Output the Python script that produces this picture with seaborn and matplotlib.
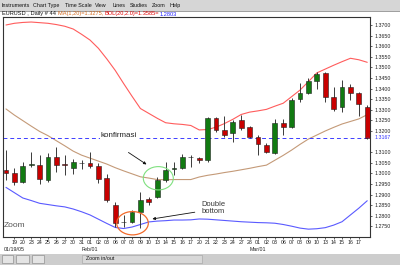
import matplotlib
matplotlib.use("Agg")
import matplotlib.pyplot as plt
import matplotlib.transforms as mtransforms
from matplotlib.patches import Ellipse, Rectangle
import seaborn as sns
import numpy as np
import pandas as pd

sns.set_style("white")
plt.rcParams['font.family'] = ['Liberation Sans', 'DejaVu Sans']

# ---------------- data ----------------
day_labels = ["19", "20", "23", "24", "25", "26", "27", "30", "31",
              "01", "02", "03", "06", "07", "08", "09", "10", "13", "14", "15", "16", "17",
              "20", "21", "22", "23", "24", "27", "28",
              "01", "02", "03", "06", "07", "08", "09", "10", "13", "14", "15", "16", "17"]
month_labels = ["01/19/05", "Feb/01", "Mar/01"]
month_label_days = [0, 9, 29]   # index into day_labels

opens = [1.3016, 1.3003, 1.2961, 1.3041, 1.3040, 1.2969, 1.3079, 1.3045, 1.3024, 1.3049,
         1.3050, 1.3035, 1.2977, 1.2851, 1.2771, 1.2772, 1.2819, 1.2878, 1.2890, 1.2969,
         1.3023, 1.3024, 1.3076, 1.3071, 1.3063, 1.3260, 1.3205, 1.3189, 1.3252, 1.3217,
         1.3173, 1.3134, 1.3095, 1.3236, 1.3220, 1.3350, 1.3378, 1.3437, 1.3475, 1.3362,
         1.3312, 1.3406, 1.3381, 1.3315]
highs = [1.3110, 1.3025, 1.3055, 1.3102, 1.3087, 1.3096, 1.3126, 1.3087, 1.3067, 1.3063,
         1.3100, 1.3048, 1.2997, 1.2867, 1.2804, 1.2827, 1.2914, 1.2890, 1.2984, 1.3055,
         1.3055, 1.3090, 1.3087, 1.3079, 1.3265, 1.3267, 1.3271, 1.3252, 1.3275, 1.3224,
         1.3181, 1.3142, 1.3255, 1.3255, 1.3354, 1.3425, 1.3449, 1.3480, 1.3478, 1.3409,
         1.3441, 1.3422, 1.3385, 1.3323]
lows = [1.2969, 1.2945, 1.2955, 1.3032, 1.2950, 1.2961, 1.3008, 1.2992, 1.2996, 1.3019,
        1.3024, 1.2953, 1.2865, 1.2749, 1.2749, 1.2765, 1.2741, 1.2851, 1.2883, 1.2961,
        1.2992, 1.3021, 1.3032, 1.3048, 1.3055, 1.3195, 1.3173, 1.3150, 1.3205, 1.3166,
        1.3087, 1.3095, 1.3092, 1.3181, 1.3214, 1.3338, 1.3375, 1.3397, 1.3338, 1.3296,
        1.3291, 1.3346, 1.3271, 1.3162]
closes = [1.3003, 1.2961, 1.3036, 1.3044, 1.2972, 1.3079, 1.3040, 1.3041, 1.3052, 1.3051,
          1.3036, 1.2972, 1.2875, 1.2765, 1.2773, 1.2819, 1.2875, 1.2867, 1.2969, 1.3016,
          1.3025, 1.3079, 1.3078, 1.3062, 1.3260, 1.3205, 1.3181, 1.3244, 1.3213, 1.3173,
          1.3137, 1.3102, 1.3236, 1.3219, 1.3346, 1.3378, 1.3437, 1.3467, 1.3362, 1.3302,
          1.3406, 1.3381, 1.3327, 1.3167]
upper_band = [1.3700, 1.3708, 1.3712, 1.3714, 1.3711, 1.3708, 1.3702, 1.3694, 1.3681, 1.3656,
              1.3629, 1.3590, 1.3540, 1.3486, 1.3424, 1.3364, 1.3306, 1.3283, 1.3260, 1.3239,
              1.3234, 1.3231, 1.3226, 1.3205, 1.3207, 1.3218, 1.3235, 1.3255, 1.3278, 1.3289,
              1.3295, 1.3302, 1.3317, 1.3331, 1.3362, 1.3393, 1.3433, 1.3474, 1.3492, 1.3510,
              1.3527, 1.3543, 1.3536, 1.3524]
middle_band = [1.3304, 1.3275, 1.3249, 1.3223, 1.3198, 1.3178, 1.3154, 1.3130, 1.3105, 1.3086,
               1.3072, 1.3058, 1.3044, 1.3027, 1.3012, 1.2998, 1.2984, 1.2978, 1.2971, 1.2970,
               1.2971, 1.2971, 1.2971, 1.2983, 1.2991, 1.2997, 1.3004, 1.3010, 1.3017, 1.3024,
               1.3032, 1.3039, 1.3062, 1.3085, 1.3110, 1.3137, 1.3162, 1.3181, 1.3200, 1.3217,
               1.3233, 1.3245, 1.3257, 1.3277]
lower_band = [1.2934, 1.2909, 1.2884, 1.2872, 1.2859, 1.2853, 1.2847, 1.2842, 1.2832, 1.2819,
              1.2804, 1.2784, 1.2764, 1.2745, 1.2740, 1.2747, 1.2759, 1.2771, 1.2775, 1.2777,
              1.2780, 1.2780, 1.2781, 1.2785, 1.2784, 1.2781, 1.2778, 1.2775, 1.2772, 1.2770,
              1.2768, 1.2767, 1.2765, 1.2759, 1.2751, 1.2742, 1.2737, 1.2739, 1.2744, 1.2756,
              1.2772, 1.2804, 1.2836, 1.2871]
last_price = 1.3167
ytick_values = [1.2750, 1.2800, 1.2850, 1.2900, 1.2950, 1.3000, 1.3050, 1.3100,
                1.3200, 1.3250, 1.3300, 1.3350, 1.3400, 1.3450, 1.3500, 1.3550,
                1.3600, 1.3650, 1.3700]
menu_items = ["Instruments", "Chart Type", "Time Scale", "View", "Lines", "Studies", "Zoom", "Help"]
header_parts = ["EURUSD , Daily # 44 ", "MA(1,20)=1.3275, ", "BOL(20,2.0)=1.3585=", "1.2803"]

# ---------------- figure ----------------
W, H = 400, 265
fig = plt.figure(figsize=(W / 100, H / 100), dpi=100)
fig.patch.set_facecolor("white")

def fy(py):
    return 1 - py / H

ax = fig.add_axes([3 / W, fy(237), 367 / W, 220 / H])
ax.set_facecolor("white")

n = len(opens)
idx = np.arange(n)
df = pd.DataFrame({"idx": idx, "upper": upper_band, "middle": middle_band, "lower": lower_band})

sns.lineplot(data=df, x="idx", y="upper", color="#ff5c5c", lw=0.8, ax=ax, zorder=1)
sns.lineplot(data=df, x="idx", y="middle", color="#c49a78", lw=0.8, ax=ax, zorder=1)
sns.lineplot(data=df, x="idx", y="lower", color="#5a5aff", lw=0.8, ax=ax, zorder=1)

o = np.array(opens); c = np.array(closes)
hi = np.array(highs); lo = np.array(lows)
up = c >= o
ax.vlines(idx, lo, hi, color="#3a3a3a", lw=0.7, zorder=2)
body_bottom = np.minimum(o, c)
body_h = np.maximum(np.abs(c - o), 0.00012)
colors = np.where(up, "#117a11", "#c80000")
ax.bar(idx, body_h, bottom=body_bottom, width=0.58, color=colors,
       edgecolor="#202020", linewidth=0.4, zorder=3)

# last price dashed line
ax.axhline(last_price, color="#3d3dff", lw=0.7, ls=(0, (4, 3)), zorder=1)

# annotations
ax.text(13.45, 1.3177, "konfirmasi", fontsize=5.8, color="#222222", ha="center", va="center",
        zorder=5, bbox=dict(facecolor="white", edgecolor="none", pad=0.6))
ax.annotate("", xy=(17.0, 1.3035), xytext=(14.3, 1.3106),
            arrowprops=dict(arrowstyle="-|>", color="#111111", lw=0.6,
                            mutation_scale=4), zorder=6)
ax.add_patch(Ellipse((18.13, 1.2977), 3.57, 0.0110, fill=False,
                     edgecolor="#7fe07f", lw=0.8, zorder=6))
ax.add_patch(Ellipse((15.06, 1.2765), 3.76, 0.0110, fill=False,
                     edgecolor="#f26a2a", lw=0.9, zorder=6))
ax.annotate("", xy=(17.1, 1.2783), xytext=(22.8, 1.2819),
            arrowprops=dict(arrowstyle="-|>", color="#111111", lw=0.6,
                            mutation_scale=4), zorder=6)
ax.text(23.25, 1.2837, "Double\nbottom", fontsize=5.4, color="#333333",
        ha="left", va="center", linespacing=1.05, zorder=6)
ax.text(0.003, 0.052, "Zoom", transform=ax.transAxes, fontsize=6, color="#555555",
        ha="left", va="center")

# axes
ax.set_xlim(-0.357, 43.33)
ax.set_ylim(1.2700, 1.37377)
ax.set_xlabel(""); ax.set_ylabel("")
ax.yaxis.tick_right()
ax.set_yticks(ytick_values)
ax.set_yticklabels([f"{v:.4f}" for v in ytick_values])
ax.set_xticks(np.arange(1, len(day_labels) + 1))
ax.set_xticklabels(day_labels)
ax.tick_params(axis="y", labelsize=3.8, length=1.5, width=0.5, pad=2.0,
               colors="#222222", right=True, left=False)
ax.tick_params(axis="x", labelsize=3.8, length=1.2, width=0.5, pad=1.2,
               colors="#222222", bottom=True)
for sp in ax.spines.values():
    sp.set_visible(True)
    sp.set_color("#333333")
    sp.set_linewidth(0.8)

trans_y = mtransforms.blended_transform_factory(ax.transAxes, ax.transData)
ax.text(1.0, last_price, "- ", transform=trans_y, fontsize=3.8, color="#3030ff",
        ha="right", va="center")
ax.text(1.0 + 5 / 367, last_price, f"{last_price:.4f}", transform=trans_y, fontsize=3.8,
        color="#3030ff", ha="left", va="center")

trans_mx = mtransforms.blended_transform_factory(ax.transData, fig.transFigure)
for lab, d in zip(month_labels, month_label_days):
    ax.text(d + 1, fy(249.5), lab, transform=trans_mx, fontsize=3.8, color="#222222",
            ha="center", va="center", clip_on=False)

# menu bar
fig.patches.append(Rectangle((0, fy(11)), 1, 11 / H, transform=fig.transFigure,
                             facecolor="#d6d6d6", edgecolor="none", zorder=0))
fig.patches.append(Rectangle((0, fy(11.5)), 1, 0.6 / H, transform=fig.transFigure,
                             facecolor="#a0a0a0", edgecolor="none", zorder=0))
menu_x = [2, 33, 65, 95, 112, 130, 152, 170]
for t, mx in zip(menu_items, menu_x):
    fig.text(mx / W, fy(5.8), t, fontsize=3.9, color="#111111", ha="left", va="center")

# header line: pieces laid out one after another
header_colors = ["#111111", "#d2691e", "#e00000", "#2020ff"]
renderer = fig.canvas.get_renderer()
hx = 2.0
for t, col in zip(header_parts, header_colors):
    txt = fig.text(hx / W, fy(14), t, fontsize=4.1, color=col, ha="left", va="center")
    bb = txt.get_window_extent(renderer=renderer)
    hx += bb.width

# status bar
fig.patches.append(Rectangle((0, 0), 1, 11 / H, transform=fig.transFigure,
                             facecolor="#cdcdcd", edgecolor="none", zorder=0))
for bx, bw in [(2, 11), (16, 13), (32, 12)]:
    fig.patches.append(Rectangle((bx / W, fy(263)), bw / W, 8 / H, transform=fig.transFigure,
                                 facecolor="#e4e4e4", edgecolor="#808080", lw=0.4, zorder=1))
fig.patches.append(Rectangle((82 / W, fy(263)), 120 / W, 8 / H, transform=fig.transFigure,
                             facecolor="#d8d8d8", edgecolor="#a0a0a0", lw=0.4, zorder=1))
fig.text(86 / W, fy(259), "Zoom in/out", fontsize=3.8, color="#111111", ha="left", va="center")

fig.savefig("out.png", dpi=100, facecolor="white")
